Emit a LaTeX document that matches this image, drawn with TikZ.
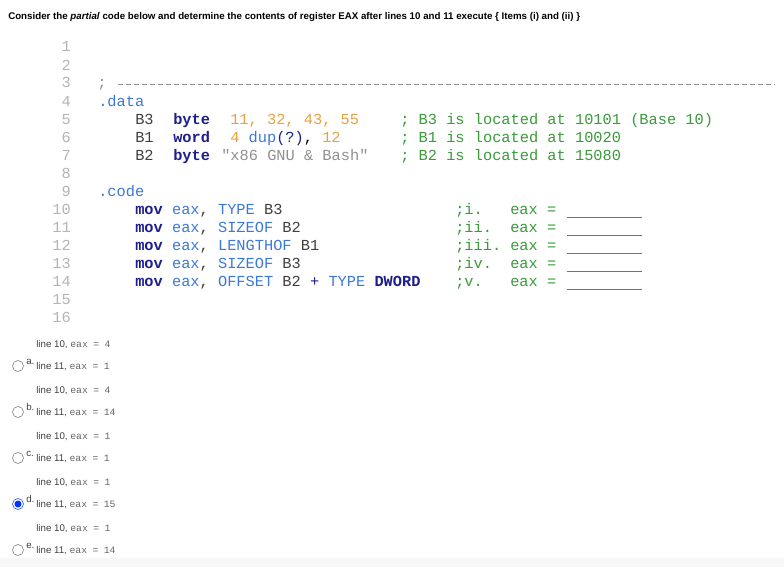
\documentclass[tikz,border=0pt]{standalone}
\usepackage{fontspec}
\setmainfont{Liberation Sans}
\setmonofont{Liberation Mono}
\begin{document}
\begin{tikzpicture}[x=0.75pt,y=-0.75pt,
  every node/.style={inner sep=0pt,anchor=base west},
  cd/.style={font=\ttfamily\fontsize{11.5}{12}\selectfont},
  ln/.style={anchor=base east,font=\ttfamily\fontsize{11.5}{12}\selectfont,text=numgray},
  opt/.style={font=\fontsize{7.3}{8}\selectfont,text=black!75},
  om/.style={font=\ttfamily\fontsize{7}{8}\selectfont,text=black!60}]
\definecolor{numgray}{HTML}{B4B4B4}
\definecolor{kw}{HTML}{1E1E8C}
\definecolor{bl}{HTML}{3C78D8}
\definecolor{orn}{HTML}{E8A040}
\definecolor{grn}{HTML}{3A9A3A}
\definecolor{strg}{HTML}{909090}
\useasboundingbox (0,0) rectangle (784,567);
\fill[black!3] (0,558) rectangle (784,567);
\node[font=\bfseries\fontsize{7.3}{8}\selectfont] (hd) at (8,20) {Consider the \textit{partial} code below and determine the contents of register EAX after lines 10 and 11 execute \{ Items (i) and (ii) \}};
\foreach \i in {1,...,16}{\node[ln] (n\i) at (71,52+18*\i-18) {\i};}
\node[cd,text=strg] (semi) at (97,88) {;};
\draw[strg,dashed,dash pattern=on 4pt off 2pt] (118,84.5) -- (775,84.5);
\node[cd,text=bl] (dt) at (98,106) {.data};
\node[cd,text=black!75] (b3) at (135,124) {B3};
\node[cd,text=kw,font=\ttfamily\bfseries\fontsize{11.5}{12}\selectfont] (k1) at (173,124) {byte};
\node[cd,text=orn] (v1) at (230,124) {11, 32, 43, 55};
\node[cd,text=grn] (c1) at (400,124) {; B3 is located at 10101 (Base 10)};
\node[cd,text=black!75] (b1) at (135,142) {B1};
\node[cd,text=kw,font=\ttfamily\bfseries\fontsize{11.5}{12}\selectfont] (k2) at (173,142) {word};
\node[cd] (v2) at (230,142) {\textcolor{orn}{4} \textcolor{bl}{dup}\textcolor{kw}{(?)}, \textcolor{orn}{12}};
\node[cd,text=grn] (c2) at (400,142) {; B1 is located at 10020};
\node[cd,text=black!75] (b2) at (135,160) {B2};
\node[cd,text=kw,font=\ttfamily\bfseries\fontsize{11.5}{12}\selectfont] (k3) at (173,160) {byte};
\node[cd,text=strg] (v3) at (221,160) {"x86 GNU \& Bash"};
\node[cd,text=grn] (c3) at (400,160) {; B2 is located at 15080};
\node[cd,text=bl] (cdn) at (98,196) {.code};
\foreach \k/\op/\rest/\cm in {0/TYPE/ B3/;i.,1/SIZEOF/ B2/;ii.,2/LENGTHOF/ B1/;iii.,3/SIZEOF/ B3/;iv.}{
  \node[cd,text=black!75] (m\k) at (135,214+18*\k) {\textcolor{kw}{\textbf{mov}} \textcolor{bl}{eax}, \textcolor{bl}{\op}\rest};
  \node[cd,text=grn] (s\k) at (455,214+18*\k) {\cm};
  \node[cd,text=grn] (e\k) at (510,214+18*\k) {eax =};
  \draw[grn] (567,217+18*\k) -- (642,217+18*\k);
}
\node[cd,text=black!75] (m4) at (135,286) {\textcolor{kw}{\textbf{mov}} \textcolor{bl}{eax}, \textcolor{bl}{OFFSET} B2 \textcolor{kw}{+} \textcolor{bl}{TYPE} \textcolor{kw}{\textbf{DWORD}}};
\node[cd,text=grn] (s4) at (455,286) {;v.};
\node[cd,text=grn] (e4) at (510,286) {eax =};
\draw[grn] (567,289) -- (642,289);
\foreach \k/\l/\a/\b in {0/a/4/1,1/b/4/14,2/c/1/1,3/d/1/15,4/e/1/14}{
  \node[opt] (p\k) at (36,347+46*\k) {line 10, \textcolor{black!60}{\ttfamily eax}~~\textcolor{black!60}{\ttfamily =}~~\textcolor{black!60}{\ttfamily \a}};
  \node[opt] (q\k) at (36,369+46*\k) {line 11, \textcolor{black!60}{\ttfamily eax}~~\textcolor{black!60}{\ttfamily =}~~\textcolor{black!60}{\ttfamily \b}};
  \node[opt] (L\k) at (26,364+46*\k) {\l.};
}
\foreach \k in {0,1,2,4}{\draw[black!55,fill=white] (18,366+46*\k) circle (5.5);}
\fill[blue!80!cyan] (18,504) circle (3.5);
\draw[blue!70!cyan] (18,504) circle (5.5);
\end{tikzpicture}
\end{document}
